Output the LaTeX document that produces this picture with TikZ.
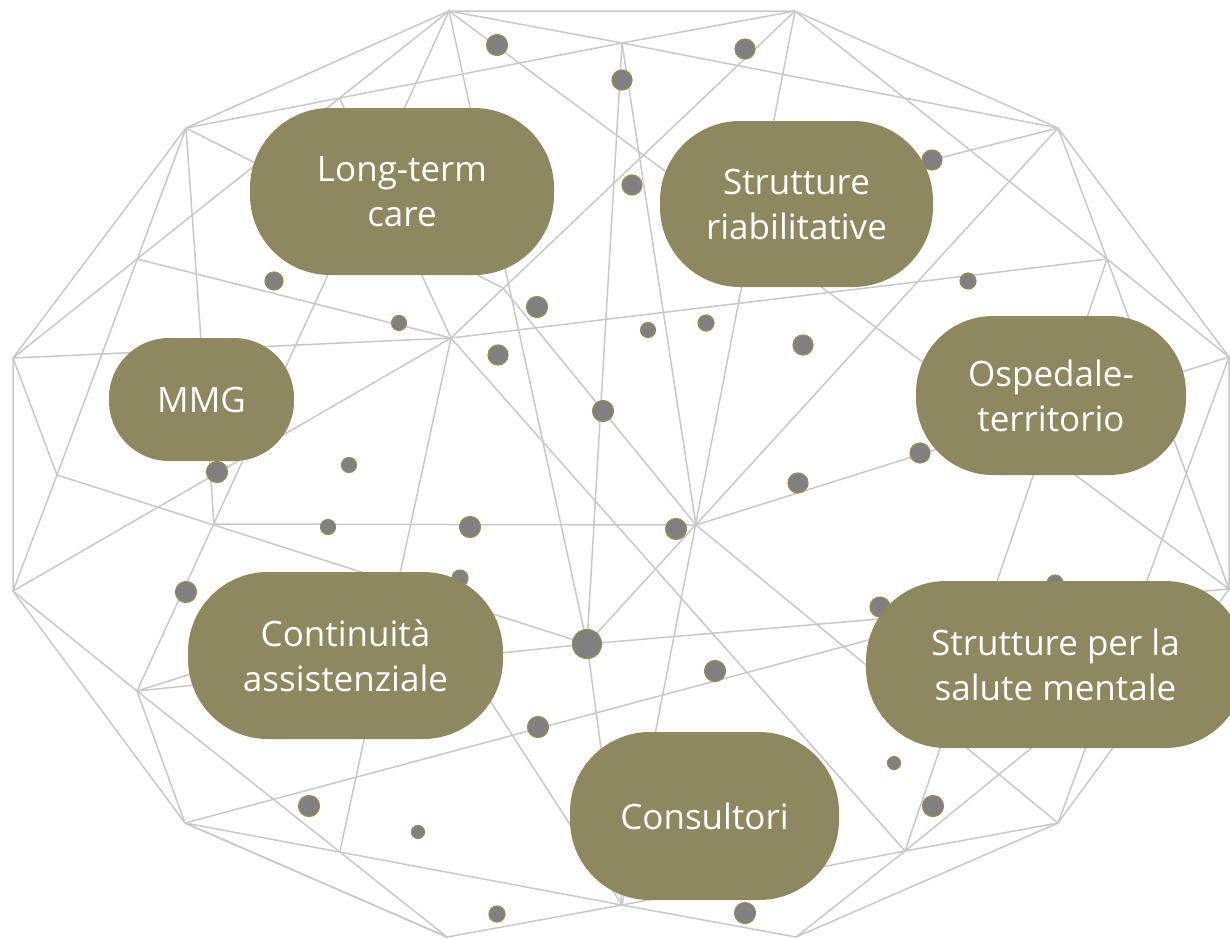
\documentclass[tikz,border=0pt]{standalone}
\usepackage{fontspec}
\setmainfont{Open Sans}
\definecolor{pillcol}{RGB}{141,136,96}
\definecolor{meshgray}{RGB}{200,200,200}
\definecolor{dotgray}{RGB}{128,128,128}
\definecolor{dotrim}{RGB}{150,140,85}
\begin{document}
\begin{tikzpicture}[x=1pt,y=-1pt,
  mesh/.style={draw=meshgray, line width=1.5pt},
  pill/.style={fill=pillcol, text=white, align=center, inner sep=0pt,
    font=\fontsize{35}{45}\selectfont},
  dot/.style={circle, fill=dotgray, draw=dotrim, line width=1.2pt, inner sep=0pt}]
\useasboundingbox (0,0) rectangle (1230,938);
\clip (0,0) rectangle (1230,938);
% vertices
\coordinate (V1) at (449,11);
\coordinate (V2) at (795,11);
\coordinate (V3) at (1058,128);
\coordinate (V4) at (1229,357);
\coordinate (V5) at (1229,589);
\coordinate (V6) at (1058,823);
\coordinate (V7) at (796,937);
\coordinate (V8) at (447,937);
\coordinate (V9) at (185,823);
\coordinate (V10) at (13,591);
\coordinate (V11) at (13,358);
\coordinate (V12) at (186,128);
\coordinate (P1) at (622,43);
\coordinate (P2) at (339.5,98);
\coordinate (P3) at (137,259);
\coordinate (Ptr) at (1107,259);
\coordinate (P4) at (451,338);
\coordinate (P5) at (503,288);
\coordinate (L1) at (214,524);
\coordinate (L2) at (57,475);
\coordinate (Q) at (137,691);
\coordinate (M) at (587,644);
\coordinate (C) at (696,525);
\coordinate (Pb) at (340,851);
\coordinate (Pbr) at (905,851);
\coordinate (P1b) at (622,905);
\coordinate (P3b) at (1105,688);
\coordinate (H1) at (425,600);
\coordinate (Hs) at (1055,590);
\coordinate (D9) at (900,168);
% outer ring
\draw[mesh] (V1) -- (V2) -- (V3) -- (V4) -- (V5) -- (V6) -- (V7);
\draw[mesh] (V8) -- (V9) -- (V10) -- (V11) -- (V12) -- (V1);
% interior mesh
\draw[mesh] (V1) -- (P1);
\draw[mesh] (V1) -- (V5);
\draw[mesh] (V1) -- (P3);
\draw[mesh] (V1) -- (Q);
\draw[mesh] (V1) -- (M);
\draw[mesh] (V12) -- (P1);
\draw[mesh] (V12) -- (P5);
\draw[mesh] (V12) -- (L1);
\draw[mesh] (V12) -- (L2);
\draw[mesh] (V11) -- (P3);
\draw[mesh] (V11) -- (P4);
\draw[mesh] (V11) -- (L2);
\draw[mesh] (V10) -- (L2);
\draw[mesh] (V10) -- (P4);
\draw[mesh] (V10) -- (Q);
\draw[mesh] (P3) -- (P4);
\draw[mesh] (P2) -- (P4);
\draw[mesh] (P4) -- (V2);
\draw[mesh] (P4) -- (Ptr);
\draw[mesh] (P4) -- (Pb);
\draw[mesh] (P4) -- (Pbr);
\draw[mesh] (P5) -- (C);
\draw[mesh] (L2) -- (M);
\draw[mesh] (L1) -- (C);
\draw[mesh] (Q) -- (M);
\draw[mesh] (Q) -- (H1);
\draw[mesh] (H1) -- (P1b);
\draw[mesh] (Q) -- (V9);
\draw[mesh] (Q) -- (V8);
\draw[mesh] (V9) -- (P1b);
\draw[mesh] (V9) -- (V8);
\draw[mesh] (V9) -- (Hs);
\draw[mesh] (V8) -- (P1b);
\draw[mesh] (P1b) -- (V7);
\draw[mesh] (P1b) -- (Pbr);
\draw[mesh] (Pbr) -- (V7);
\draw[mesh] (Pbr) -- (V6);
\draw[mesh] (Ptr) -- (Pbr);
\draw[mesh] (P3b) -- (Pbr);
\draw[mesh] (C) -- (V6);
\draw[mesh] (V2) -- (P1b);
\draw[mesh] (V3) -- (M);
\draw[mesh] (V4) -- (C);
\draw[mesh] (V4) -- (V6);
\draw[mesh] (Ptr) -- (V5);
\draw[mesh] (Ptr) -- (V4);
\draw[mesh] (V3) -- (Ptr);
\draw[mesh] (V2) -- (Ptr);
\draw[mesh] (P1) -- (V3);
\draw[mesh] (P1) -- (V2);
\draw[mesh] (P1) -- (M);
\draw[mesh] (P1) -- (C);
\draw[mesh] (M) -- (V5);
\draw[mesh] (M) -- (P1b);
\draw[mesh] (V3) -- (D9);
% dots
\foreach \n/\x/\y/\d in {a/497/45/21, b/745/49/20, c/622/80/20, d/632/185/20,
  f/274/281/18, g/537/307/21, h/399/323/15, i/648/330/15, j/706/323/16,
  k/968/281/16, l/498/355/20, m/803/345/20, n/603/411/21, o/920/453/20,
  p/349/465/15, q/217/472/21, r/798/483/20, s/328/527/15, t/470/527/21,
  u/676/529/21, v/460/578/16, w/186/592/21, x/880/607/20, y/1055/583/16,
  z/587/644/29, A/715/671/21, B/538/727/21, C/894/763/13, D/309/806/21,
  E/933/806/21, F/418/832/13, G/497/914/16, H/745/913/21}
  \node[dot, minimum size=\d pt] (dot\n) at (\x,\y) {};
% pills
\node[pill, minimum width=304pt, minimum height=167pt, rounded corners=80pt] (ltc) at (402,191.5) {Long-term\\care};
\node[pill, minimum width=273pt, minimum height=166pt, rounded corners=80pt] (sria) at (796.5,204) {Strutture\\riabilitative};
\node[pill, minimum width=270pt, minimum height=159pt, rounded corners=77pt] (osp) at (1051,395.5) {Ospedale-\\territorio};
\node[pill, minimum width=185pt, minimum height=123pt, rounded corners=60pt] (mmg) at (201.5,399.5) {MMG};
\node[pill, minimum width=315pt, minimum height=167pt, rounded corners=80pt] (cont) at (345.5,655.5) {Continuità\\assistenziale};
\node[pill, minimum width=269pt, minimum height=168pt, rounded corners=80pt] (cons) at (704.5,816) {Consultori};
\node[pill, minimum width=379pt, minimum height=167pt, rounded corners=80pt] (spsm) at (1055.5,664.5) {Strutture per la\\salute mentale};
\node[dot, minimum size=20pt] (dotI) at (932,160) {};
\end{tikzpicture}
\end{document}
